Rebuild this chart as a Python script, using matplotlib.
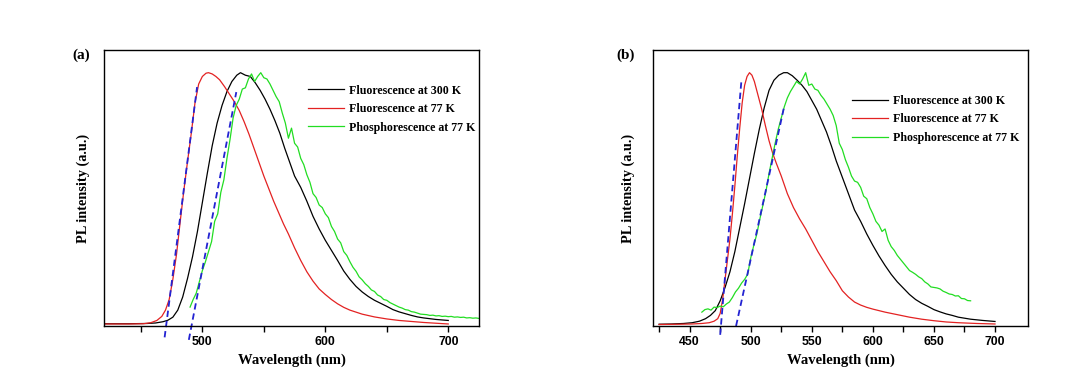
import numpy as np
import matplotlib
matplotlib.use('Agg')
import matplotlib.pyplot as plt

plt.rcParams['font.family'] = ['Liberation Serif', 'DejaVu Serif']
plt.rcParams['font.weight'] = 'bold'

# ---- panel (a) ----
bk_a_x = [420, 440, 455, 462, 468, 472, 476, 480, 484, 488, 492, 496, 500, 504, 508, 512, 516, 520,
          524, 528, 531, 535, 539, 543, 547, 551, 555, 559, 563, 567, 571, 575, 580, 585, 590, 595,
          600, 605, 610, 615, 620, 625, 630, 635, 640, 645, 650, 655, 660, 665, 670, 675, 680, 685,
          690, 695, 700]
bk_a_y = [0.004, 0.004, 0.005, 0.007, 0.012, 0.018, 0.03, 0.058, 0.11, 0.185, 0.27, 0.37, 0.485, 0.60,
          0.71, 0.80, 0.87, 0.925, 0.965, 0.99, 1.0, 0.99, 0.985, 0.96, 0.93, 0.895, 0.855, 0.81, 0.76,
          0.70, 0.645, 0.59, 0.545, 0.49, 0.43, 0.38, 0.335, 0.295, 0.255, 0.213, 0.18, 0.152, 0.13,
          0.112, 0.097, 0.085, 0.073, 0.06, 0.051, 0.044, 0.037, 0.031, 0.027, 0.024, 0.021, 0.019, 0.017]

rd_a_x = [420, 440, 452, 458, 463, 467, 470, 473, 476, 479, 482, 485, 488, 491, 494, 497, 500, 503,
          505, 508, 511, 514, 518, 522, 526, 530, 534, 538, 542, 546, 550, 554, 558, 562, 566, 570,
          575, 580, 585, 590, 595, 600, 605, 610, 615, 620, 630, 640, 650, 660, 670, 680, 690, 700]
rd_a_y = [0.003, 0.003, 0.004, 0.008, 0.017, 0.033, 0.058, 0.10, 0.18, 0.28, 0.41, 0.535, 0.65, 0.76,
          0.88, 0.955, 0.985, 0.998, 1.0, 0.995, 0.985, 0.972, 0.945, 0.915, 0.885, 0.85, 0.805, 0.755,
          0.70, 0.645, 0.59, 0.54, 0.49, 0.445, 0.40, 0.36, 0.305, 0.255, 0.21, 0.173, 0.142, 0.12, 0.1,
          0.083, 0.069, 0.058, 0.042, 0.031, 0.023, 0.017, 0.013, 0.009, 0.006, 0.003]

# phosphorescence (a), 2.5 nm steps from 490 nm
gr_a_start = 490
gr_a_y = [0.07, 0.10, 0.125, 0.17, 0.215, 0.25, 0.29, 0.33, 0.41, 0.44,
          0.525, 0.575, 0.66, 0.735, 0.82, 0.87, 0.895, 0.935, 0.94, 0.975,
          0.995, 0.965, 0.985, 1.0, 0.98, 0.975, 0.955, 0.93, 0.905, 0.885,
          0.84, 0.8, 0.74, 0.78, 0.72, 0.705, 0.66, 0.635, 0.595, 0.565,
          0.52, 0.505, 0.475, 0.465, 0.44, 0.425, 0.39, 0.37, 0.34, 0.325,
          0.29, 0.275, 0.25, 0.228, 0.212, 0.19, 0.178, 0.163, 0.152, 0.138,
          0.132, 0.118, 0.112, 0.1, 0.097, 0.088, 0.082, 0.076, 0.07, 0.066,
          0.06, 0.058, 0.052, 0.05, 0.046, 0.042, 0.041, 0.04, 0.037, 0.038,
          0.035, 0.036, 0.033, 0.034, 0.032, 0.033, 0.03, 0.031, 0.029, 0.03,
          0.027, 0.028, 0.026, 0.027, 0.025]

# onset tangents (a)
tan_a_red = ([469.3, 495.7], [-0.05, 0.943])
tan_a_green = ([489.0, 527.6], [-0.06, 0.923])

# ---- panel (b) ----
bk_b_x = [425, 435, 445, 452, 458, 463, 467, 471, 475, 479, 483, 487, 491, 495, 499, 503, 507, 511,
          515, 519, 523, 527, 530, 534, 538, 542, 546, 550, 554, 558, 562, 566, 570, 575, 580, 585,
          590, 595, 600, 605, 610, 615, 620, 625, 630, 635, 640, 645, 650, 655, 660, 665, 670, 680,
          690, 700]
bk_b_y = [0.002, 0.003, 0.005, 0.008, 0.014, 0.024, 0.037, 0.056, 0.095, 0.148, 0.21, 0.29, 0.385,
          0.48, 0.58, 0.68, 0.775, 0.86, 0.93, 0.97, 0.99, 1.0, 1.0, 0.988, 0.97, 0.95, 0.925, 0.89,
          0.855, 0.81, 0.765, 0.71, 0.65, 0.585, 0.52, 0.455, 0.41, 0.36, 0.315, 0.273, 0.235, 0.2,
          0.17, 0.145, 0.12, 0.1, 0.085, 0.073, 0.06, 0.051, 0.043, 0.037, 0.03, 0.022, 0.017, 0.013]

rd_b_x = [425, 440, 452, 460, 466, 470, 473, 475, 477, 479, 481, 483, 485, 487, 489, 491, 493, 495,
          497, 499, 501, 503, 506, 509, 512, 515, 518, 521, 525, 530, 535, 540, 545, 550, 555, 560,
          565, 570, 575, 580, 585, 590, 595, 600, 610, 620, 630, 640, 650, 660, 670, 685, 700]
rd_b_y = [0.001, 0.002, 0.003, 0.005, 0.008, 0.014, 0.024, 0.045, 0.1, 0.18, 0.26, 0.34, 0.44, 0.55,
          0.67, 0.78, 0.88, 0.95, 0.985, 1.0, 0.99, 0.965, 0.91, 0.855, 0.79, 0.73, 0.68, 0.64, 0.59,
          0.52, 0.465, 0.42, 0.38, 0.335, 0.29, 0.25, 0.21, 0.175, 0.135, 0.11, 0.09, 0.078, 0.069,
          0.062, 0.05, 0.04, 0.03, 0.022, 0.016, 0.011, 0.008, 0.005, 0.003]

# phosphorescence (b), 2.5 nm steps from 460 nm
gr_b_start = 460
gr_b_y = [0.05, 0.06, 0.063, 0.058, 0.07, 0.068, 0.074, 0.071, 0.082, 0.09,
          0.108, 0.13, 0.145, 0.165, 0.18, 0.2, 0.265, 0.315, 0.36, 0.42,
          0.475, 0.53, 0.6, 0.66, 0.72, 0.775, 0.82, 0.865, 0.9, 0.925,
          0.945, 0.965, 0.955, 0.975, 1.0, 0.95, 0.955, 0.935, 0.93, 0.91,
          0.895, 0.875, 0.855, 0.83, 0.79, 0.72, 0.695, 0.655, 0.625, 0.59,
          0.57, 0.565, 0.545, 0.51, 0.5, 0.465, 0.44, 0.41, 0.395, 0.37,
          0.38, 0.335, 0.31, 0.295, 0.275, 0.26, 0.245, 0.23, 0.215, 0.208,
          0.2, 0.19, 0.183, 0.17, 0.162, 0.15, 0.148, 0.146, 0.142, 0.133,
          0.128, 0.122, 0.12, 0.114, 0.115, 0.104, 0.103, 0.096, 0.095]

tan_b_red = ([475.0, 492.4], [-0.04, 0.97])
tan_b_green = ([488.0, 527.0], [-0.005, 0.857])

labels = ['Fluorescence at 300 K', 'Fluorescence at 77 K', 'Phosphorescence at 77 K']
colors = ['black', '#e32222', '#22dd22']
blue = '#2323d2'

W, H = 1089, 382
fig = plt.figure(figsize=(W / 100, H / 100), dpi=100)
ax_a = fig.add_axes([104 / W, 56 / H, 375 / W, 276 / H])
ax_b = fig.add_axes([653 / W, 56 / H, 375 / W, 276 / H])


def draw(ax, bk, rd, gr_start, gr_y, tans, xlim, major, minor, leg_anchor):
    gx = gr_start + 2.5 * np.arange(len(gr_y))
    ax.plot(bk[0], bk[1], color=colors[0], lw=0.9, label=labels[0])
    ax.plot(rd[0], rd[1], color=colors[1], lw=0.9, label=labels[1])
    ax.plot(gx, gr_y, color=colors[2], lw=0.9, label=labels[2])
    for tx, ty in tans:
        ax.plot(tx, ty, color=blue, lw=1.3, ls=(0, (3.5, 2.2)), clip_on=False)
    ax.set_xlim(*xlim)
    ax.set_ylim(-0.005, 1.09)
    ax.set_yticks([])
    ax.set_xticks(major)
    ax.set_xticks(minor, minor=True)
    ax.tick_params(axis='x', which='both', direction='out', length=4, width=1)
    ax.tick_params(axis='x', which='major', labelsize=8.8, pad=3)
    for lab in ax.get_xticklabels():
        lab.set_fontfamily('Liberation Sans')
        lab.set_fontweight('bold')
    for sp in ax.spines.values():
        sp.set_linewidth(1.0)
    ax.set_xlabel('Wavelength (nm)', fontsize=10.5, fontweight='bold', labelpad=4)
    ax.legend(loc='upper left', bbox_to_anchor=leg_anchor, frameon=False,
              handlelength=3.0, handletextpad=0.4, labelspacing=0.55,
              borderpad=0, borderaxespad=0, prop={'weight': 'bold', 'size': 8.6})


draw(ax_a, (bk_a_x, bk_a_y), (rd_a_x, rd_a_y), gr_a_start, gr_a_y,
     [tan_a_red, tan_a_green], (420, 725), [500, 600, 700], [450, 550, 650], (0.544, 0.875))
draw(ax_b, (bk_b_x, bk_b_y), (rd_b_x, rd_b_y), gr_b_start, gr_b_y,
     [tan_b_red, tan_b_green], (420, 727), [450, 500, 550, 600, 650, 700],
     [425, 475, 525, 575, 625, 675], (0.531, 0.838))

fig.text(83 / W, 1 - 188 / H, 'PL intensity (a.u.)', rotation=90, ha='center', va='center',
         fontsize=10.3, fontweight='bold')
fig.text(628 / W, 1 - 188 / H, 'PL intensity (a.u.)', rotation=90, ha='center', va='center',
         fontsize=10.3, fontweight='bold')
fig.text(81 / W, 1 - 55 / H, '(a)', ha='center', va='center', fontsize=11, fontweight='bold')
fig.text(626 / W, 1 - 55 / H, '(b)', ha='center', va='center', fontsize=11, fontweight='bold')

fig.savefig('out.png', dpi=100)
